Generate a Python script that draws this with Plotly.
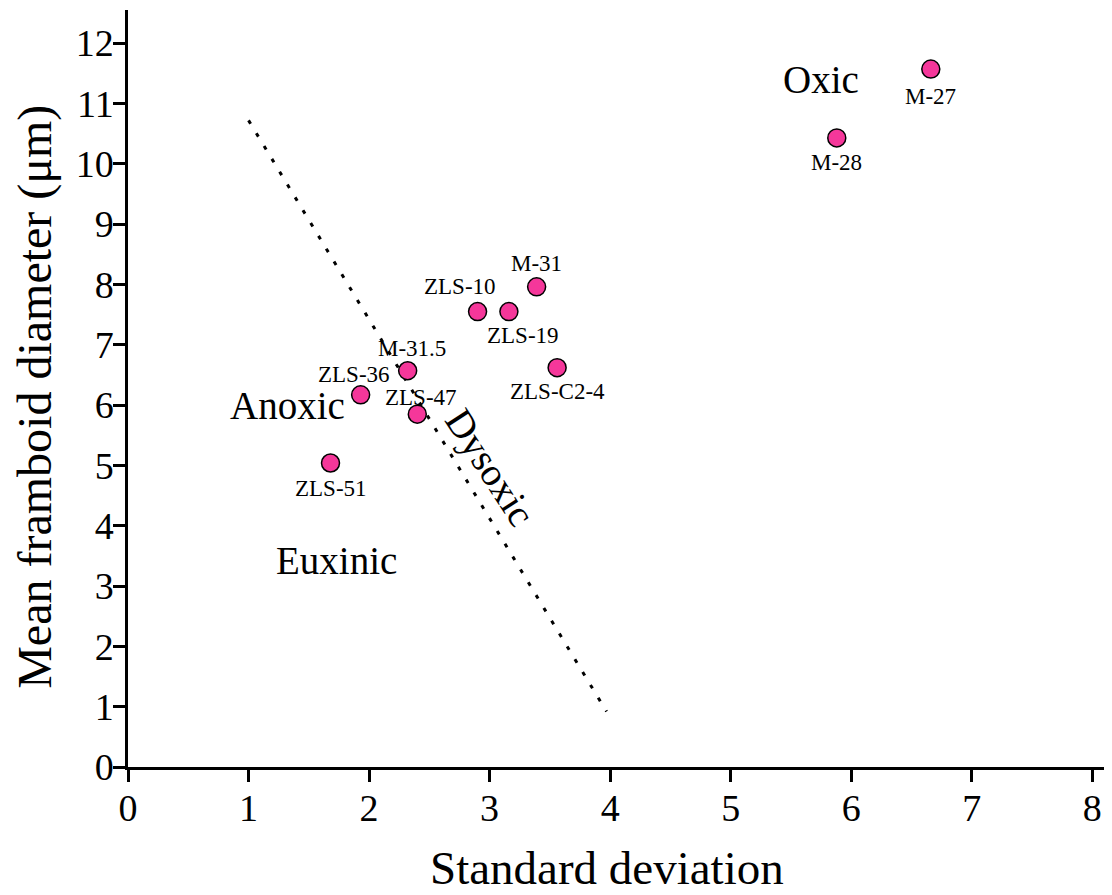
import plotly.graph_objects as go

samples = ["M-27", "M-28", "M-31", "ZLS-10", "ZLS-19", "ZLS-C2-4", "M-31.5", "ZLS-36", "ZLS-47", "ZLS-51"]
std_dev = [6.66, 5.88, 3.39, 2.90, 3.16, 3.56, 2.32, 1.93, 2.40, 1.68]
mean_d = [11.57, 10.43, 7.96, 7.55, 7.55, 6.62, 6.57, 6.17, 5.85, 5.04]

boundary_x = [1.0, 3.97]
boundary_y = [10.72, 0.92]

region_labels = ["Oxic", "Anoxic", "Euxinic", "Dysoxic"]
region_x = [5.75, 1.32, 1.73, 3.0]
region_y = [11.39, 5.99, 3.43, 4.97]

# label offsets (px) for each sample
label_dx = [0, 0, 0, -18, 14, 0, 4, -7, 4, 0]
label_dy = [-27, -25, 23, 25, -24, -24, 22, 20, 17, -26]
region_angle = [0, 0, 0, 57]

FONT = "Liberation Serif, Times New Roman, serif"

fig = go.Figure()
fig.add_trace(go.Scatter(x=boundary_x, y=boundary_y, mode="lines",
                         line=dict(color="black", width=3, dash="4px,11px"),
                         hoverinfo="skip", showlegend=False))
fig.add_trace(go.Scatter(x=std_dev, y=mean_d, mode="markers",
                         marker=dict(size=18, color="#F5379A",
                                     line=dict(color="black", width=1.5)),
                         text=samples, showlegend=False))

for s, x, y, dx, dy in zip(samples, std_dev, mean_d, label_dx, label_dy):
    fig.add_annotation(x=x, y=y, text=s, showarrow=False, xshift=dx, yshift=dy,
                       font=dict(family=FONT, size=23, color="black"))

for t, x, y, ang in zip(region_labels, region_x, region_y, region_angle):
    fig.add_annotation(x=x, y=y, text=t, showarrow=False, textangle=ang,
                       font=dict(family=FONT, size=39, color="black"))

# axis titles
fig.add_annotation(text="Standard deviation", xref="paper", yref="paper",
                   x=0.489, y=0, yshift=-101, xanchor="center", yanchor="middle",
                   showarrow=False, font=dict(family=FONT, size=47, color="black"))
fig.add_annotation(text="Mean framboid diameter (μm)", xref="paper", yref="paper",
                   x=0, y=0.489, xshift=-93, xanchor="center", yanchor="middle",
                   textangle=-90, showarrow=False,
                   font=dict(family=FONT, size=48, color="black"))

axis_common = dict(showline=True, linecolor="black", linewidth=2.5,
                   ticks="outside", ticklen=12, tickwidth=2.5, tickcolor="black",
                   showgrid=False, zeroline=False, dtick=1, automargin=False,
                   tickfont=dict(family=FONT, size=38, color="black"))

fig.update_xaxes(range=[0, 8.13], ticklabelstandoff=-6, **axis_common)
fig.update_yaxes(range=[0, 12.55], ticklabelstandoff=-8, **axis_common)

fig.update_layout(width=1112, height=895, plot_bgcolor="white", paper_bgcolor="white",
                  margin=dict(l=120, r=12, t=2, b=136))

fig.write_html("out.html")
